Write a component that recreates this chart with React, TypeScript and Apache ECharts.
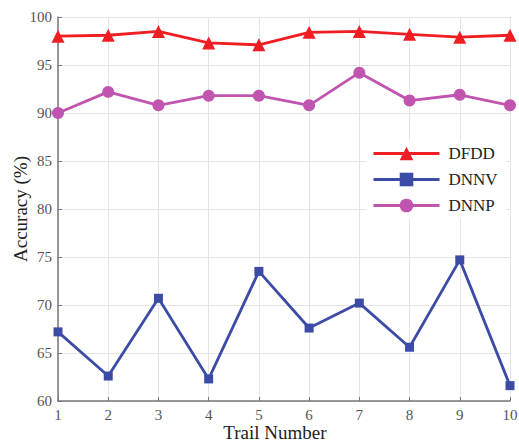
import React, { useEffect, useRef } from "react";
import * as echarts from "echarts";

const trials = ["1", "2", "3", "4", "5", "6", "7", "8", "9", "10"];
const dfdd = [98.0, 98.1, 98.5, 97.3, 97.1, 98.4, 98.5, 98.2, 97.9, 98.1];
const dnnv = [67.2, 62.6, 70.7, 62.3, 73.5, 67.6, 70.2, 65.6, 74.7, 61.6];
const dnnp = [90.0, 92.2, 90.8, 91.8, 91.8, 90.8, 94.2, 91.3, 91.9, 90.8];

const FONT = "'Liberation Serif', 'Times New Roman', serif";

export default function App() {
  const ref = useRef<HTMLDivElement>(null);
  useEffect(() => {
    if (!ref.current) return;
    const chart = echarts.init(ref.current, undefined, { renderer: "svg" });
    const mk = (name: string, data: number[], color: string, symbol: string, size: number) => ({
      name,
      type: "line",
      data: data.map((v, i) => [Number(trials[i]), v]),
      symbol,
      symbolSize: size,
      lineStyle: { color, width: 2.8 },
      itemStyle: { color },
      z: 3,
    });
    chart.setOption({
      animation: false,
      backgroundColor: "#fff",
      textStyle: { fontFamily: FONT },
      grid: { left: 58, right: 9, top: 17, bottom: 42, containLabel: false, outerBoundsMode: "none" },
      xAxis: {
        type: "value",
        min: 1,
        max: 10,
        interval: 1,
        name: "Trail Number",
        nameLocation: "middle",
        nameGap: 22,
        nameMoveOverlap: false,
        nameTextStyle: { fontFamily: FONT, fontSize: 19, color: "#222", padding: [0, 18, 0, 0] },
        axisLine: { show: true, onZero: false, lineStyle: { color: "#777", width: 1.5 } },
        axisTick: { show: true, inside: true, length: 4, lineStyle: { color: "#777" } },
        axisLabel: { fontFamily: FONT, fontSize: 15, color: "#555", margin: 6 },
        splitLine: { show: true, lineStyle: { color: "#e4e4e4", width: 1 } },
      },
      yAxis: {
        type: "value",
        min: 60,
        max: 100,
        interval: 5,
        name: "Accuracy (%)",
        nameLocation: "middle",
        nameGap: 28,
        nameMoveOverlap: false,
        nameTextStyle: { fontFamily: FONT, fontSize: 19, color: "#222" },
        axisLine: { show: true, lineStyle: { color: "#777", width: 1.5 } },
        axisTick: { show: true, inside: true, length: 4, lineStyle: { color: "#777" } },
        axisLabel: { fontFamily: FONT, fontSize: 15, color: "#555", margin: 6 },
        splitLine: { show: true, lineStyle: { color: "#e4e4e4", width: 1 } },
      },
      legend: {
        orient: "vertical",
        left: 366,
        top: 141,
        itemWidth: 66,
        itemHeight: 17,
        itemGap: 9,
        padding: [4, 8, 4, 6],
        backgroundColor: "#fff",
        lineStyle: { width: 3 },
        textStyle: { fontFamily: FONT, fontSize: 17, color: "#222", padding: [0, 0, 0, 4] },
        data: ["DFDD", "DNNV", "DNNP"],
      },
      series: [
        mk("DFDD", dfdd, "#f01e23", "triangle", 13),
        mk("DNNV", dnnv, "#3c4ca6", "rect", 9),
        mk("DNNP", dnnp, "#c054ae", "circle", 12),
      ],
    });
    return () => chart.dispose();
  }, []);
  return <div ref={ref} style={{ width: 519, height: 443, position: "absolute", left: 0, top: 0 }} />;
}
